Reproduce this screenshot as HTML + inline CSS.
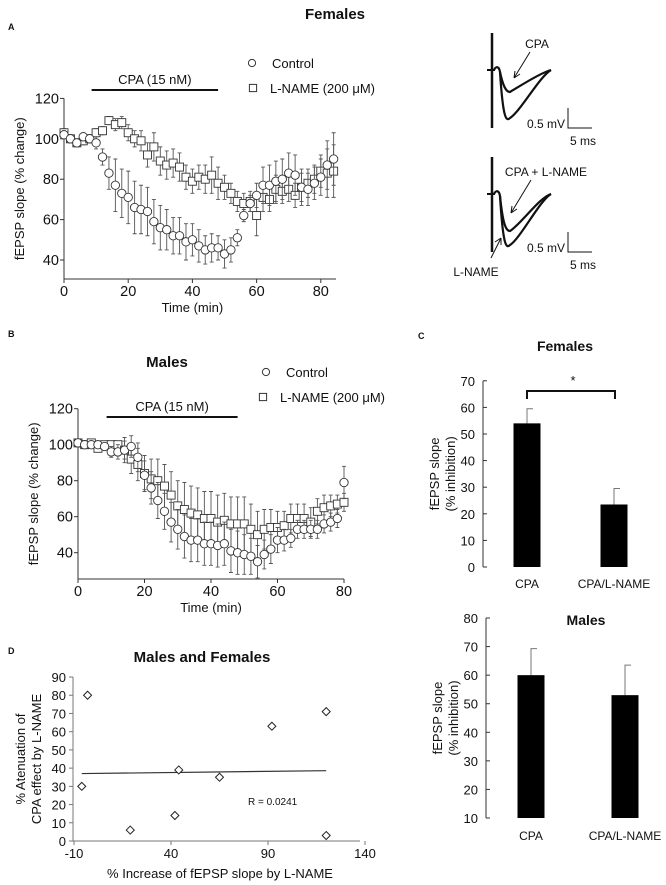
<!DOCTYPE html>
<html><head><meta charset="utf-8"><style>
body{margin:0;background:#fff;}
svg{display:block;font-family:"Liberation Sans",Arial,sans-serif;}
text{fill:#111;}
</style></head><body>
<svg id="fig" width="666" height="885" viewBox="0 0 666 885">
<g id="gA"></g>
<g id="gT"></g>
<g id="gB"></g>
<g id="gC"></g>
<g id="gM"></g>
<g id="gD"></g>
</svg>
<script>
// Panel A (females) data, time 0..84 step 2
const aTimes=[0,2,4,6,8,10,12,14,16,18,20,22,24,26,28,30,32,34,36,38,40,42,44,46,48,50,52,54,56,58,60,62,64,66,68,70,72,74,76,78,80,82,84];
const aCtrl=[102,100,98,101,100,98,91,83,77,73,71,66,65,64,59,56,55,52,52,49,50,47,45,46,46,43,45,51,62,68,72,77,77,79,80,83,82,76,75,78,81,87,90];
const aCtrlErr=[2,2,2,2,2,3,4,8,13,12,13,13,12,12,11,11,10,9,9,9,8,8,7,7,6,7,6,4,3,4,6,9,10,10,10,10,10,9,8,8,9,12,13];
const aLn=[103,100,98,99,100,103,104,109,107,108,103,100,99,92,96,89,87,88,86,81,79,81,80,82,78,76,73,69,68,69,62,71,70,75,74,75,72,76,78,80,84,83,84];
const aLnErr=[2,2,2,2,2,2,2,2,3,3,4,4,5,6,7,7,7,7,7,6,6,6,7,9,8,6,5,5,5,5,10,7,6,7,6,6,6,7,7,7,8,12,13];
// Panel B (males) data, time 0..80 step 2
const bTimes=[0,2,4,6,8,10,12,14,16,18,20,22,24,26,28,30,32,34,36,38,40,42,44,46,48,50,52,54,56,58,60,62,64,66,68,70,72,74,76,78,80];
const bCtrl=[101,100,100,100,99,96,96,97,99,93,83,76,69,63,57,53,49,47,47,45,45,44,45,41,40,39,38,35,39,42,47,47,48,53,53,53,53,56,57,59,79];
const bCtrlErr=[2,2,2,2,2,3,4,7,6,8,8,9,10,10,11,11,12,12,12,12,12,12,12,12,12,11,10,9,8,8,7,6,5,5,5,5,5,5,5,5,9];
const bLn=[101,100,101,98,100,100,100,97,92,89,84,81,80,77,72,66,64,62,61,59,59,57,58,56,56,56,53,50,53,54,54,55,59,59,59,57,63,65,66,67,68];
const bLnErr=[2,2,2,2,2,2,2,5,8,9,10,11,12,12,13,14,15,15,15,15,15,15,15,15,15,15,14,13,11,10,9,8,8,8,8,8,7,7,6,5,5];
// Panel C bars
const cCats=["CPA","CPA/L-NAME"];
const cFem=[54,23.5];
const cFemErr=[5.5,6];
const cMal=[60,53];
const cMalErr=[9.3,10.5];
const cFemTicks=[0,10,20,30,40,50,60,70];
const cMalTicks=[10,20,30,40,50,60,70,80];
// Panel D scatter
const dX=[-6,-3,19,42,44,65,92,120,120];
const dY=[30,80,6,14,39,35,63,71,3];
const dFitX=[-6,120];
const dFitY=[37,38.6];
const dXTicks=[-10,40,90,140];
const dYTicks=[0,10,20,30,40,50,60,70,80,90];

const NS="http://www.w3.org/2000/svg";
function el(parent,tag,attrs,txt){const e=document.createElementNS(NS,tag);for(const k in attrs)e.setAttribute(k,attrs[k]);if(txt!==undefined)e.textContent=txt;parent.appendChild(e);return e;}
function txt(p,x,y,s,size,opt){opt=opt||{};const t=el(p,'text',{x:x,y:y,'font-size':size,'text-anchor':opt.a||'start','font-weight':opt.b?'bold':'normal'},s);if(opt.rot)t.setAttribute('transform','rotate(-90 '+x+' '+y+')');return t;}

function timePanel(g,o){
  const X=v=>o.x0+v*o.xs, Y=v=>o.y0-(v-o.vmin)*o.ys;
  const ax=el(g,'path',{d:`M${o.x0},${Y(120)}V${o.yb}H${o.xEnd}`,fill:'none',stroke:'#333','stroke-width':1});
  
  [40,60,80,100,120].forEach(v=>{el(g,'line',{x1:o.x0-4,x2:o.x0,y1:Y(v),y2:Y(v),stroke:'#333'});
    const t=txt(g,o.x0-5,Y(v)+5,String(v),14.5,{a:'end'});});
  [0,20,40,60,80].forEach(v=>{el(g,'line',{x1:X(v),x2:X(v),y1:o.yb,y2:o.yb+4,stroke:'#333'});
    const t=txt(g,X(v),o.yb+17,String(v),14.5,{a:'middle'});});
  const xt=txt(g,(o.x0+X(80))/2,o.yb+33,'Time (min)',13,{a:'middle'});
  
  const yt=txt(g,o.x0-40,(Y(120)+o.yb)/2,'fEPSP slope (% change)',13,{a:'middle',rot:1});
  
  const bar=el(g,'line',{x1:X(8.6),x2:X(48),y1:o.cpaY,y2:o.cpaY,stroke:'#111','stroke-width':2});
  
  const ct=txt(g,(X(8.6)+X(48))/2,o.cpaY-6,'CPA (15 nM)',13,{a:'middle'});
  
  function series(times,vals,errs,shape,name){
    times.forEach((t,i)=>{
      const e=el(g,'path',{d:`M${X(t)},${Y(vals[i]-errs[i])}V${Y(vals[i]+errs[i])}M${X(t)-2},${Y(vals[i]-errs[i])}h4M${X(t)-2},${Y(vals[i]+errs[i])}h4`,stroke:'#555','stroke-width':0.9,fill:'none'});
      
    });
    times.forEach((t,i)=>{
      let m;
      if(shape==='c') m=el(g,'circle',{cx:X(t),cy:Y(vals[i]),r:4.2,fill:'#fff',stroke:'#333','stroke-width':0.9});
      else m=el(g,'rect',{x:X(t)-4,y:Y(vals[i])-4,width:8,height:8,fill:'#fff',stroke:'#333','stroke-width':0.9});
      
    });
  }
  series(o.t,o.ln,o.lnE,'s','lname');
  series(o.t,o.c,o.cE,'c','control');
  const l1=el(g,'circle',{cx:o.lx,cy:o.ly,r:3.6,fill:'#fff',stroke:'#333'});
  
  const l1t=txt(g,o.lx+20,o.ly+5,'Control',13);
  const l2=el(g,'rect',{x:o.lx2-3.6,y:o.ly+25-3.6,width:7.2,height:7.2,fill:'#fff',stroke:'#333'});
  
  const l2t=txt(g,o.lx2+17,o.ly+30,'L-NAME (200 μM)',13);
}

const gA=document.getElementById('gA');
let t=txt(gA,8,30,'A',9,{b:1});
t=txt(gA,335,19,'Females',15,{a:'middle',b:1});
timePanel(gA,{x0:64,xs:3.21,y0:260,vmin:40,ys:2.02,yb:279,xEnd:336,cpaY:90,lx:252,ly:63,lx2:253,t:aTimes,c:aCtrl,cE:aCtrlErr,ln:aLn,lnE:aLnErr});

const gB=document.getElementById('gB');
t=txt(gB,8,337,'B',9,{b:1});
t=txt(gB,167,367,'Males',15,{a:'middle',b:1});
timePanel(gB,{x0:78,xs:3.325,y0:552.7,vmin:40,ys:1.8,yb:579,xEnd:344,cpaY:417,lx:266,ly:372,lx2:263,t:bTimes,c:bCtrl,cE:bCtrlErr,ln:bLn,lnE:bLnErr});

// Traces
const gT=document.getElementById('gT');
function trace(yOff,bigMin,smallMin){
  el(gT,'line',{x1:492,x2:492,y1:yOff-37,y2:yOff+58,stroke:'#111','stroke-width':2.5});
  el(gT,'line',{x1:487,x2:495,y1:yOff,y2:yOff,stroke:'#111','stroke-width':2});
  el(gT,'path',{d:`M494,${yOff}C496,${yOff-4} 499,${yOff-4} 500,${yOff+2}C503,${yOff+bigMin-yOff} 506,${bigMin+4} 510,${bigMin}C520,${bigMin-6} 540,${yOff+6} 551,${yOff}`,fill:'none',stroke:'#111','stroke-width':2.2});
  el(gT,'path',{d:`M500,${yOff+2}C503,${smallMin-6} 506,${smallMin} 510,${smallMin}C520,${smallMin-6} 540,${yOff+3} 551,${yOff}`,fill:'none',stroke:'#111','stroke-width':2.2});
  el(gT,'path',{d:`M568,${yOff+38}V${yOff+58}H592`,fill:'none',stroke:'#111','stroke-width':1});
  txt(gT,565,yOff+58,'0.5 mV',12,{a:'end'});
  txt(gT,570,yOff+75,'5 ms',12);
}
trace(70,118,92);
trace(194,245,231);
txt(gT,537,48,'CPA',12,{a:'middle'});
el(gT,'path',{d:'M530,52L514,78M514,78l1,-7M514,78l6,-4',stroke:'#111',fill:'none','stroke-width':1});
txt(gT,546,176,'CPA + L-NAME',12,{a:'middle'});
el(gT,'path',{d:'M531,180L511,213M511,213l1,-7M511,213l6,-4',stroke:'#111',fill:'none','stroke-width':1});
txt(gT,476,276,'L-NAME',12,{a:'middle'});
el(gT,'path',{d:'M491,258L501,238M501,238l0,7M501,238l-6,4',stroke:'#111',fill:'none','stroke-width':1});

function barPanel(g,o){
  const Y=v=>o.yb-(v-o.vmin)*o.ys;
  const ax=el(g,'path',{d:`M${o.x0},${Y(o.ticks[o.ticks.length-1])}V${o.yb}`,stroke:'#333',fill:'none'});
  
  o.ticks.forEach(v=>{el(g,'line',{x1:o.x0,x2:o.x0+4,y1:Y(v),y2:Y(v),stroke:'#333'});
    const tt=txt(g,o.x0-8,Y(v)+5,String(v),13,{a:'end'});});
  o.vals.forEach((v,i)=>{
    const cx=o.cx[i];
    const e=el(g,'path',{d:`M${cx},${Y(v)}V${Y(v+o.errs[i])}h6`,stroke:'#777',fill:'none','stroke-width':1});
    
    const r=el(g,'rect',{x:cx-13.5,y:Y(v),width:27,height:o.yb-Y(v),fill:'#000'});
    
    const l=txt(g,cx,o.lab,cCats[i],12,{a:'middle'});
  });
  const y1=txt(g,o.x0-44,(Y(o.ticks[o.ticks.length-1])+o.yb)/2,'fEPSP slope',13,{a:'middle',rot:1});
  
  const y2=txt(g,o.x0-28,(Y(o.ticks[o.ticks.length-1])+o.yb)/2,'(% inhibition)',13,{a:'middle',rot:1});
  
  return Y;
}
const gC=document.getElementById('gC');
t=txt(gC,418,339,'C',9,{b:1});
t=txt(gC,565,351,'Females',14,{a:'middle',b:1});
barPanel(gC,{x0:483,yb:567,vmin:0,ys:2.66,ticks:cFemTicks,vals:cFem,errs:cFemErr,cx:[527,614],lab:588});
const br=el(gC,'path',{d:'M527,399V391H615V399',stroke:'#111','stroke-width':2,fill:'none'});

t=txt(gC,573,385,'*',13,{a:'middle'});

const gM=document.getElementById('gM');
t=txt(gM,586,625,'Males',14,{a:'middle',b:1});
barPanel(gM,{x0:486,yb:818,vmin:10,ys:2.857,ticks:cMalTicks,vals:cMal,errs:cMalErr,cx:[531,625],lab:840});

// Panel D
const gD=document.getElementById('gD');
t=txt(gD,8,654,'D',9,{b:1});
t=txt(gD,202,662,'Males and Females',15,{a:'middle',b:1});
const DX=v=>74+(v+10)*1.94, DY=v=>841-v*1.822;
const dax=el(gD,'path',{d:`M73,${DY(90)}V841H360`,stroke:'#777',fill:'none'});

dYTicks.forEach(v=>{el(gD,'line',{x1:69,x2:73,y1:DY(v),y2:DY(v),stroke:'#777'});
  const tt=txt(gD,66,DY(v)+5,String(v),13,{a:'end'});});
dXTicks.forEach(v=>{el(gD,'line',{x1:DX(v),x2:DX(v),y1:841,y2:845,stroke:'#777'});
  const tt=txt(gD,DX(v),858,String(v),13,{a:'middle'});});
t=txt(gD,220,878,'% Increase of fEPSP slope by L-NAME',13,{a:'middle'});
t=txt(gD,25,759,'% Atenuation of',13,{a:'middle',rot:1});
t=txt(gD,41,759,'CPA effect by L-NAME',13,{a:'middle',rot:1});
const fit=el(gD,'line',{x1:DX(dFitX[0]),y1:DY(dFitY[0]),x2:DX(dFitX[1]),y2:DY(dFitY[1]),stroke:'#333','stroke-width':1.2});

dX.forEach((x,i)=>{const cx=DX(x),cy=DY(dY[i]);
  const p=el(gD,'path',{d:`M${cx},${cy-4}L${cx+4},${cy}L${cx},${cy+4}L${cx-4},${cy}Z`,fill:'#fff',stroke:'#222','stroke-width':1});
  });
t=txt(gD,248,805,'R = 0.0241',10);
</script>
</body></html>
